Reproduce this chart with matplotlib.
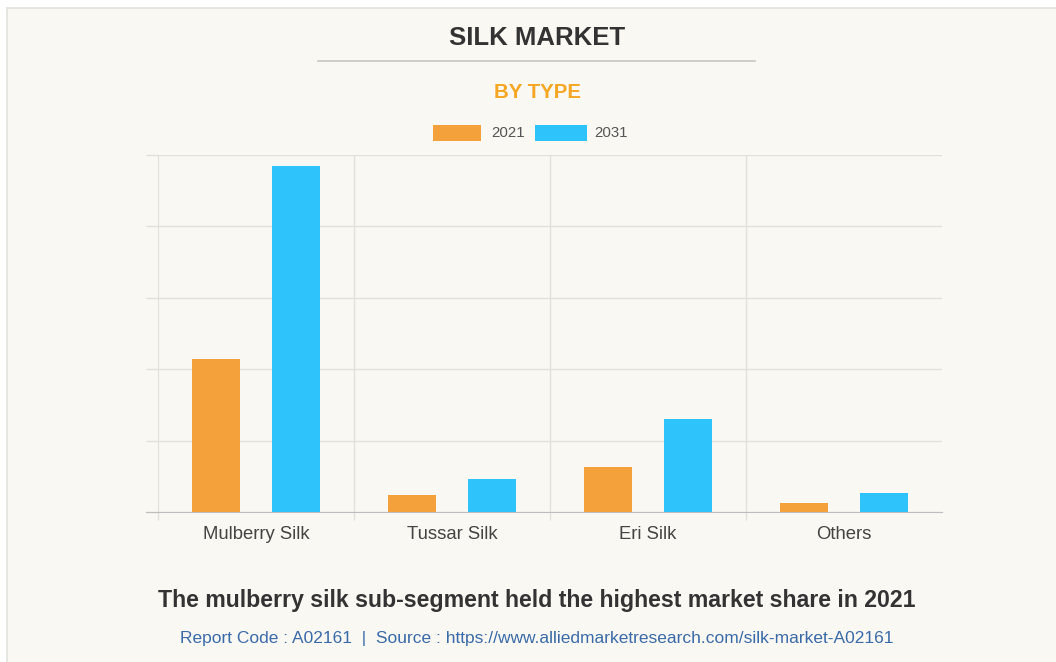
import matplotlib
matplotlib.use("Agg")
import matplotlib.pyplot as plt
import numpy as np
from matplotlib.patches import Rectangle
from matplotlib.lines import Line2D

categories = ["Mulberry Silk", "Tussar Silk", "Eri Silk", "Others"]
series_names = ["2021", "2031"]
values_2021 = [2.14, 0.24, 0.63, 0.12]
values_2031 = [4.84, 0.46, 1.30, 0.26]
colors = ["#f4a13c", "#2ec3fb"]

title = "SILK MARKET"
subtitle = "BY TYPE"
footer = "The mulberry silk sub-segment held the highest market share in 2021"
source = "Report Code : A02161  |  Source : https://www.alliedmarketresearch.com/silk-market-A02161"

plt.rcParams['font.family'] = ['Liberation Sans', 'DejaVu Sans']

W, H = 1056, 662
fig = plt.figure(figsize=(W / 100, H / 100), dpi=100)
fig.patch.set_facecolor("white")

# off-white panel
fig.patches.append(Rectangle((7 / W, -0.01), 1.0, 1.01 - 8 / H, transform=fig.transFigure,
                             facecolor="#faf8f3", edgecolor="#e4e2dc", linewidth=1.2, zorder=-10))

ax = fig.add_axes([158 / W, (H - 512) / H, (942 - 158) / W, (512 - 155) / H])
ax.set_facecolor("none")
ax.set_zorder(5)

x = np.arange(len(categories))
off = 0.204
bw = 0.24
ax.bar(x - off, values_2021, bw, color=colors[0], zorder=3)
ax.bar(x + off, values_2031, bw, color=colors[1], zorder=3)

ax.set_xlim(-0.5, len(categories) - 0.5)
ax.set_ylim(0, 5)
ax.set_yticks(np.arange(0, 6, 1))
ax.set_yticklabels([])
ax.yaxis.grid(True, color="#e2e0da", linewidth=1)
ax.set_axisbelow(True)
ax.tick_params(axis="y", length=9, color="#e2e0da", width=1)

ax.set_xticks(x)
ax.set_xticklabels(categories, fontsize=13.3, color="#444444")
ax.tick_params(axis="x", length=0, pad=10)
ax.set_xticks(np.arange(-0.5, len(categories) - 1), minor=True)
ax.tick_params(axis="x", which="minor", length=6, color="#e2e0da", width=1)
for b in np.arange(0.5, len(categories) - 0.5):
    ax.axvline(b, color="#e2e0da", linewidth=1, zorder=1)

for s in ["top", "right"]:
    ax.spines[s].set_visible(False)
ax.spines["left"].set_color("#e2e0da")
ax.spines["bottom"].set_color("#bdbdbd")
ax.spines["bottom"].set_bounds(-0.5 - 12 / 196, len(categories) - 0.5)

# headings
fig.text(537 / W, 1 - 38 / H, title, ha="center", va="center", fontsize=18.5,
         fontweight="bold", color="#333333")
fig.add_artist(Line2D([318 / W, 755 / W], [1 - 61 / H, 1 - 61 / H], color="#c8c6c0",
                      linewidth=1.2, transform=fig.transFigure))
fig.text(537 / W, 1 - 93 / H, subtitle, ha="center", va="center", fontsize=14.7,
         fontweight="bold", color="#f5a623")

# legend
ly = 1 - 133 / H
fig.patches.append(Rectangle((433 / W, ly - 8 / H), 48 / W, 16 / H, transform=fig.transFigure,
                             facecolor=colors[0], edgecolor="none"))
fig.text(491 / W, ly, series_names[0], ha="left", va="center", fontsize=10.8, color="#555555")
fig.patches.append(Rectangle((535 / W, ly - 8 / H), 52 / W, 16 / H, transform=fig.transFigure,
                             facecolor=colors[1], edgecolor="none"))
fig.text(594 / W, ly, series_names[1], ha="left", va="center", fontsize=10.8, color="#555555")

# footer
fig.text(537 / W, 1 - 601 / H, footer, ha="center", va="center", fontsize=16.7,
         fontweight="bold", color="#333333")
fig.text(537 / W, 1 - 638 / H, source, ha="center", va="center", fontsize=12.5,
         color="#3a6aa8")

fig.savefig("out.png", dpi=100, facecolor=fig.get_facecolor())
